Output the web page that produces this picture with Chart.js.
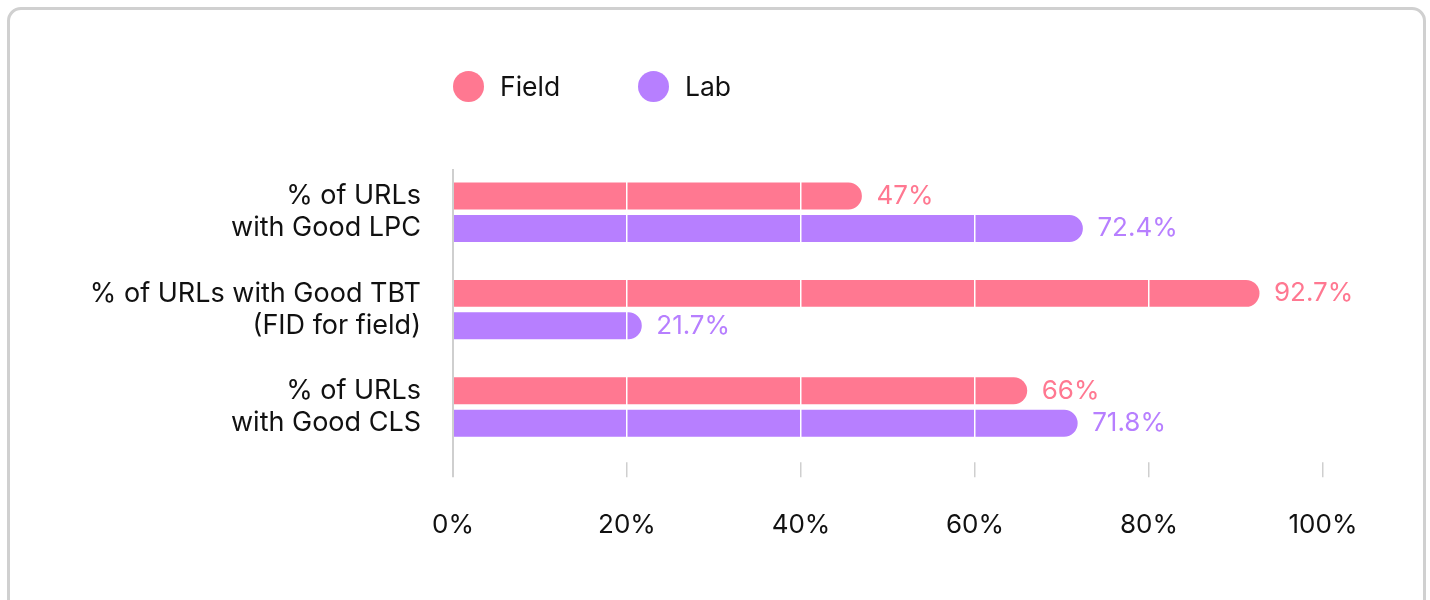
<!DOCTYPE html>
<html lang="en">
<head>
    <meta charset="UTF-8">
    <title>Good URLs: Field vs Lab</title>
    <script src="https://cdn.jsdelivr.net/npm/chart.js"></script>
    <style>
        html, body {
            margin: 0;
            padding: 0;
            background: #fff;
            font-family: 'Inter', sans-serif;
        }
        #card {
            position: absolute;
            left: 7px;
            top: 7px;
            width: 1419px;
            height: 700px;
            box-sizing: border-box;
            border: 3px solid #d0d0d0;
            border-radius: 14px;
        }
        #wrap {
            position: absolute;
            left: 0;
            top: 0;
            width: 1430px;
            height: 600px;
        }
        .legend-item {
            position: absolute;
            top: 70px;
            height: 32px;
            display: flex;
            align-items: center;
            font-size: 26.5px;
            color: #111;
        }
        .legend-item .dot {
            width: 31px;
            height: 31px;
            border-radius: 50%;
            margin-right: 16px;
        }
    </style>
</head>
<body>
    <div id="card"></div>
    <div id="wrap">
        <canvas id="grafico" width="1430" height="600"></canvas>
    </div>
    <div class="legend-item" style="left:453px"><span class="dot" style="background:#ff7891"></span>Field</div>
    <div class="legend-item" style="left:638px"><span class="dot" style="background:#b77fff"></span>Lab</div>

    <script>
        const categorie = [
            ['% of URLs', 'with Good LPC'],
            ['% of URLs with Good TBT', '(FID for field)'],
            ['% of URLs', 'with Good CLS']
        ];
        const valoriField = [47, 92.7, 66];
        const valoriLab = [72.4, 21.7, 71.8];
        const tickValori = [0, 20, 40, 60, 80, 100];

        const rosa = '#ff7891';
        const viola = '#b77fff';

        // etichette dei valori a destra di ogni barra
        const etichetteValori = {
            id: 'etichetteValori',
            afterDraw(chart) {
                const ctx = chart.ctx;
                ctx.save();
                ctx.font = '26px Inter';
                ctx.textAlign = 'left';
                ctx.textBaseline = 'middle';
                chart.data.datasets.forEach((ds, i) => {
                    const meta = chart.getDatasetMeta(i);
                    meta.data.forEach((bar, j) => {
                        ctx.fillStyle = ds.backgroundColor;
                        ctx.fillText(ds.data[j] + '%', bar.x + 14.5, bar.y);
                    });
                });
                ctx.restore();
            }
        };

        const isZero = (c) => c.tick && c.tick.value === 0;

        const ctx = document.getElementById('grafico').getContext('2d');

        new Chart(ctx, {
            type: 'bar',
            data: {
                labels: categorie,
                datasets: [
                    {
                        label: 'Field',
                        data: valoriField,
                        backgroundColor: rosa,
                        borderRadius: 14,
                        borderSkipped: 'start',
                        categoryPercentage: 0.667,
                        barPercentage: 0.83
                    },
                    {
                        label: 'Lab',
                        data: valoriLab,
                        backgroundColor: viola,
                        borderRadius: 14,
                        borderSkipped: 'start',
                        categoryPercentage: 0.667,
                        barPercentage: 0.83
                    }
                ]
            },
            options: {
                indexAxis: 'y',
                responsive: false,
                animation: false,
                layout: {
                    padding: { top: 163.5, right: 107, bottom: 0, left: 0 }
                },
                plugins: {
                    legend: { display: false },
                    tooltip: { enabled: false }
                },
                scales: {
                    x: {
                        min: 0,
                        max: 100,
                        afterBuildTicks: (s) => {
                            s.ticks = tickValori.map(v => ({ value: v }));
                        },
                        afterFit: (s) => {
                            s.paddingLeft = 0;
                            s.paddingRight = 0;
                            s.height = 144.3;
                        },
                        border: {
                            display: false,
                            dash: (c) => isZero(c) ? [0, 5.5, 1000] : []
                        },
                        grid: {
                            z: 1,
                            color: (c) => isZero(c) ? '#cfcfcf' : '#ffffff',
                            lineWidth: (c) => isZero(c) ? 2 : 1.5,
                            tickColor: '#cfcfcf',
                            tickLength: 21.6,
                            tickBorderDash: (c) => isZero(c) ? [] : [0, 6.2, 15.4, 100]
                        },
                        ticks: {
                            padding: 32,
                            color: '#111',
                            font: { family: 'Inter', size: 26 },
                            maxRotation: 0,
                            callback: (v) => v + '%'
                        }
                    },
                    y: {
                        afterFit: (s) => {
                            s.width = 453;
                        },
                        border: { display: false },
                        grid: { display: false, drawTicks: false, tickLength: 0 },
                        ticks: {
                            padding: 32,
                            color: '#111',
                            font: { family: 'Inter', size: 27, lineHeight: 1.19 }
                        }
                    }
                }
            },
            plugins: [etichetteValori]
        });
    </script>
</body>
</html>
